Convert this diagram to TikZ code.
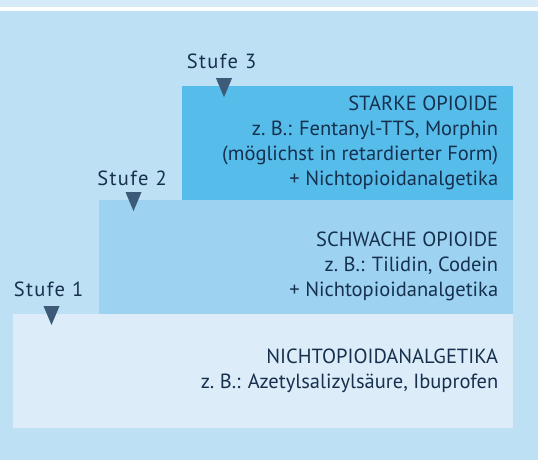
\documentclass[tikz,border=0pt]{standalone}
\usepackage{fontspec}
\setmainfont{PT Sans}
\usetikzlibrary{positioning}
\definecolor{bgblue}{HTML}{BDE0F5}
\definecolor{stripblue}{HTML}{D6EAF8}
\definecolor{boxthree}{HTML}{56BCEA}
\definecolor{boxtwo}{HTML}{9DD3F0}
\definecolor{boxone}{HTML}{DCEDF9}
\definecolor{textnavy}{HTML}{16304E}
\definecolor{marknavy}{HTML}{3E5A79}

\begin{document}
\begin{tikzpicture}[x=1pt, y=-1pt,
    stepbox/.style={rectangle, inner xsep=15pt, inner ysep=0pt, align=flush right,
      minimum height=113.5pt, text=textnavy, font=\fontsize{20.5}{25}\selectfont},
    stufe/.style={anchor=base, inner sep=0pt, text=textnavy, font=\fontsize{20.5}{20}\selectfont\addfontfeatures{LetterSpace=7}},
    marker/.style={fill=marknavy}]
    % background
    \fill[stripblue] (0,0) rectangle (538,7.5);
    \fill[white] (0,7.5) rectangle (538,11);
    \fill[bgblue] (0,11) rectangle (538,460);
    \useasboundingbox (0,0) rectangle (538,460);

    % steps
    \node[stepbox, fill=boxone, anchor=north west, text width=470pt] (b1) at (13,314)
      {NICHTOPIOIDANALGETIKA\\z.~B.: Azetylsalizylsäure, Ibuprofen};
    \node[stepbox, fill=boxtwo, anchor=south east, text width=384.5pt] (b2) at (b1.north east)
      {\rule{0pt}{33pt}SCHWACHE OPIOIDE\\z.~B.: Tilidin, Codein\\+ Nichtopioidanalgetika};
    \node[stepbox, fill=boxthree, anchor=south east, text width=301pt] (b3) at (b2.north east)
      {STARKE OPIOIDE\\z.~B.: Fentanyl-TTS, Morphin\\(möglichst in retardierter Form)\\+ Nichtopioidanalgetika};

    % markers
    \coordinate (m1) at ([xshift=38.5pt]b1.north west);
    \coordinate (m2) at ([xshift=35pt]b2.north west);
    \coordinate (m3) at ([xshift=42pt]b3.north west);
    \foreach \m in {m1, m2, m3}
      \fill[marker] (\m) ++(-8,-8) -- ++(16,0) -- ++(-8,19) -- cycle;

    \node[stufe] (s1) at (48.5,296) {Stufe 1};
    \node[stufe] (s2) at (132,185) {Stufe 2};
    \node[stufe] (s3) at (221.5,69) {Stufe 3};
\end{tikzpicture}
\end{document}
